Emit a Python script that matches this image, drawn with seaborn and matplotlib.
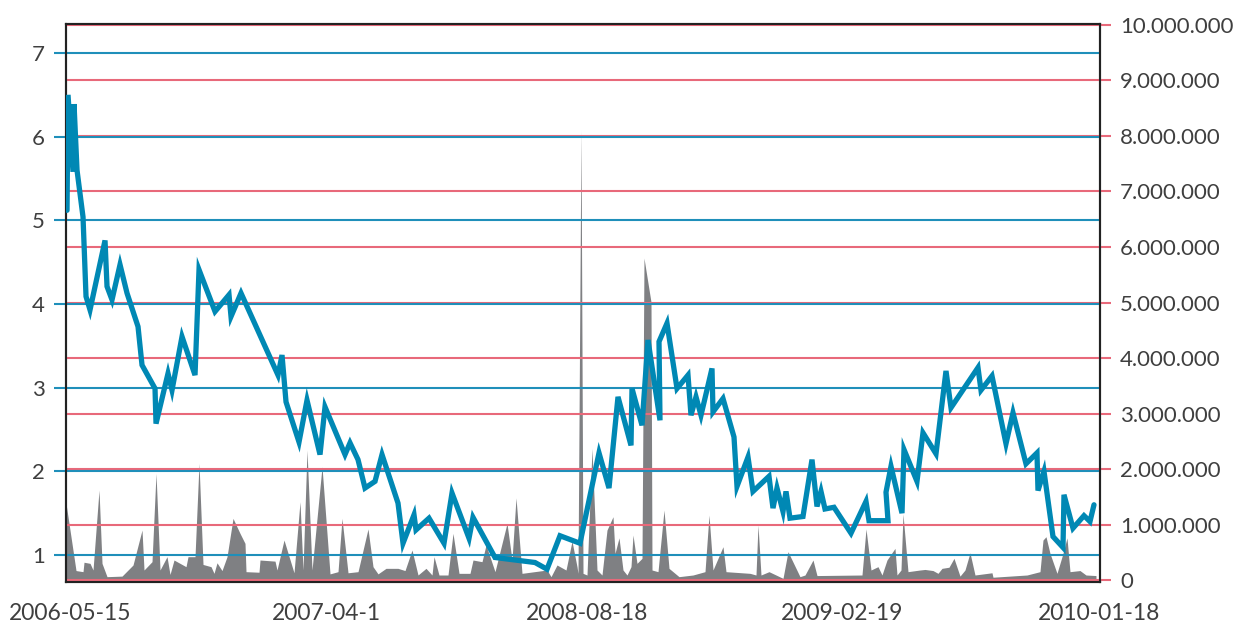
import seaborn as sns
import pandas as pd
import matplotlib.pyplot as plt
from matplotlib.ticker import FuncFormatter

# observation index (one step per trading day slot) and closing price
price_t = [1, 2, 7, 8, 11, 17, 20, 24, 39, 41, 46, 54, 61, 72, 76, 89, 90, 102, 106, 116,
           129, 133, 149, 163, 165, 175, 212, 216, 220, 233, 241, 254, 259, 279, 284, 292,
           299, 309, 316, 332, 337, 348, 350, 363, 378, 386, 403, 407, 429, 469, 481, 494,
           514, 533, 543, 552, 565, 566, 576, 582, 594, 593, 601, 611, 622, 625, 630, 635,
           646, 647, 657, 668, 671, 682, 687, 703, 707, 711, 717, 720, 724, 737, 746, 751,
           755, 759, 768, 785, 800, 803, 822, 820, 825, 836, 838, 851, 857, 870, 880, 885,
           912, 915, 926, 940, 947, 960, 971, 972, 978, 987, 997, 998, 1007, 1018, 1024, 1028]
price = [5.12, 6.50, 5.58, 6.39, 5.60, 5.04, 4.09, 3.93, 4.76, 4.21, 4.05, 4.47, 4.13, 3.73,
         3.27, 2.99, 2.57, 3.17, 2.97, 3.61, 3.15, 4.41, 3.91, 4.11, 3.85, 4.13, 3.15, 3.39,
         2.83, 2.35, 2.85, 2.20, 2.77, 2.20, 2.34, 2.14, 1.80, 1.88, 2.20, 1.62, 1.14, 1.48,
         1.30, 1.44, 1.14, 1.74, 1.20, 1.45, 0.97, 0.91, 0.83, 1.23, 1.14, 2.22, 1.80, 2.89,
         2.31, 2.99, 2.55, 3.57, 2.61, 3.55, 3.77, 2.99, 3.15, 2.67, 2.89, 2.67, 3.23, 2.71,
         2.87, 2.41, 1.82, 2.17, 1.76, 1.94, 1.56, 1.80, 1.52, 1.76, 1.44, 1.46, 2.14, 1.58,
         1.76, 1.55, 1.57, 1.26, 1.64, 1.41, 1.41, 1.75, 2.06, 1.50, 2.26, 1.88, 2.46, 2.21,
         3.20, 2.76, 3.24, 2.97, 3.14, 2.33, 2.70, 2.09, 2.22, 1.77, 2.00, 1.22, 1.09, 1.72,
         1.32, 1.47, 1.40, 1.60]

# traded volume, millions
vol_t = [0, 10, 17, 18, 24, 27, 33, 36, 41, 56, 67, 76, 78, 86, 90, 94, 101, 104, 108, 120,
         122, 129, 133, 137, 145, 148, 151, 156, 161, 167, 174, 179, 180, 193, 194, 209, 211,
         218, 228, 234, 237, 241, 246, 256, 264, 272, 276, 282, 292, 302, 307, 312, 320, 332,
         339, 346, 352, 360, 366, 368, 373, 382, 387, 393, 404, 407, 416, 420, 429, 441, 446,
         450, 456, 481, 485, 491, 500, 506, 511, 512, 515, 517, 521, 526, 531, 536, 541, 547,
         549, 553, 557, 561, 565, 567, 571, 576, 578, 585, 586, 592, 598, 603, 613, 627, 639,
         643, 647, 657, 660, 684, 690, 692, 695, 703, 717, 722, 734, 739, 747, 751, 796, 800,
         805, 812, 816, 821, 829, 831, 835, 837, 842, 854, 859, 867, 872, 876, 883, 888, 894,
         899, 904, 909, 926, 927, 961, 974, 977, 980, 984, 991, 997, 1001, 1004, 1014, 1020, 1030]
vol_m = [1.38, 0.17, 0.15, 0.32, 0.30, 0.18, 1.62, 0.30, 0.06, 0.07, 0.27, 0.90, 0.18, 0.33,
         1.92, 0.18, 0.42, 0.10, 0.36, 0.24, 0.42, 0.42, 2.10, 0.28, 0.24, 0.12, 0.31, 0.17,
         0.42, 1.11, 0.84, 0.66, 0.15, 0.14, 0.36, 0.34, 0.18, 0.72, 0.13, 1.41, 0.18, 2.34,
         0.18, 2.04, 0.11, 0.15, 1.11, 0.13, 0.15, 0.92, 0.24, 0.11, 0.21, 0.21, 0.17, 0.54,
         0.09, 0.21, 0.09, 0.42, 0.09, 0.09, 0.84, 0.12, 0.12, 0.36, 0.33, 0.63, 0.15, 1.02,
         0.36, 1.48, 0.12, 0.18, 0.06, 0.27, 0.18, 0.70, 0.24, 0.12, 8.10, 0.12, 0.09, 2.37,
         0.18, 0.09, 0.90, 1.14, 0.48, 0.76, 0.18, 0.09, 0.24, 0.81, 0.30, 0.39, 5.80, 5.01,
         0.18, 0.15, 1.26, 0.21, 0.06, 0.09, 0.15, 1.17, 0.18, 0.60, 0.15, 0.12, 0.09, 0.99,
         0.09, 0.15, 0.03, 0.51, 0.06, 0.09, 0.36, 0.08, 0.09, 0.92, 0.18, 0.24, 0.09, 0.36,
         0.57, 0.09, 0.18, 1.19, 0.15, 0.18, 0.19, 0.17, 0.12, 0.21, 0.23, 0.39, 0.07, 0.18,
         0.49, 0.09, 0.13, 0.05, 0.09, 0.15, 0.72, 0.78, 0.48, 0.12, 0.48, 0.76, 0.15, 0.17,
         0.09, 0.08]

tick_pos = [4, 260, 521, 776, 1033]
tick_labels = ["2006-05-15", "2007-04-1", "2008-08-18", "2009-02-19", "2010-01-18"]

price_df = pd.DataFrame({"t": price_t, "price": price})
vol_df = pd.DataFrame({"t": vol_t, "volume": [v * 1e6 for v in vol_m]})

BLUE = "#0088b4"
GRID_BLUE = "#1f8fba"
GRID_RED = "#e8697a"
TEXT = "#3f3f3f"

sns.set_style("white")
plt.rcParams["font.family"] = ["Lato", "DejaVu Sans"]

fig = plt.figure(figsize=(12.34, 6.25), dpi=100)
ax = fig.add_axes([0.0535, 0.0688, 0.8379, 0.8928])
ax2 = ax.twinx()
ax.set_zorder(ax2.get_zorder() + 1)
ax.patch.set_visible(False)
ax2.set_facecolor("#e6e7e9")

# volume area on the right axis, red grid drawn over it
ax2.fill_between(vol_df["t"], vol_df["volume"], color="#7f8083", lw=0, zorder=1)
ax2.set_axisbelow(False)
ax2.yaxis.grid(True, color=GRID_RED, lw=1.5)
ax2.xaxis.grid(False)
ax2.set_ylim(-36000, 10018000)
ax2.set_yticks(range(0, 10_000_001, 1_000_000))
ax2.yaxis.set_major_formatter(FuncFormatter(lambda v, p: f"{int(round(v)):,}".replace(",", ".")))
ax2.tick_params(axis="y", length=8, width=1.5, color=GRID_RED, labelsize=16,
                labelcolor=TEXT, pad=6.5)

# price line on the left axis
sns.lineplot(data=price_df, x="t", y="price", ax=ax, sort=False, estimator=None,
             color=BLUE, lw=3.8, solid_joinstyle="miter", zorder=3)
ax.yaxis.grid(True, color=GRID_BLUE, lw=1.5)
ax.xaxis.grid(False)
ax.set_ylim(0.677, 7.347)
ax.set_yticks(range(1, 8))
ax.set_xlim(0, 1034)
ax.set_xticks(tick_pos, tick_labels)
ax.set_xlabel("")
ax.set_ylabel("")
ax.tick_params(axis="y", length=8.6, width=1.5, color=GRID_BLUE, labelsize=16,
               labelcolor=TEXT, pad=6.5)
ax.tick_params(axis="x", length=0, pad=15, labelsize=16.5, labelcolor=TEXT)

for a in (ax, ax2):
    for s in a.spines.values():
        s.set_visible(True)
        s.set_color("#222222")
        s.set_linewidth(1.5)

fig.savefig("out.png", dpi=100)
